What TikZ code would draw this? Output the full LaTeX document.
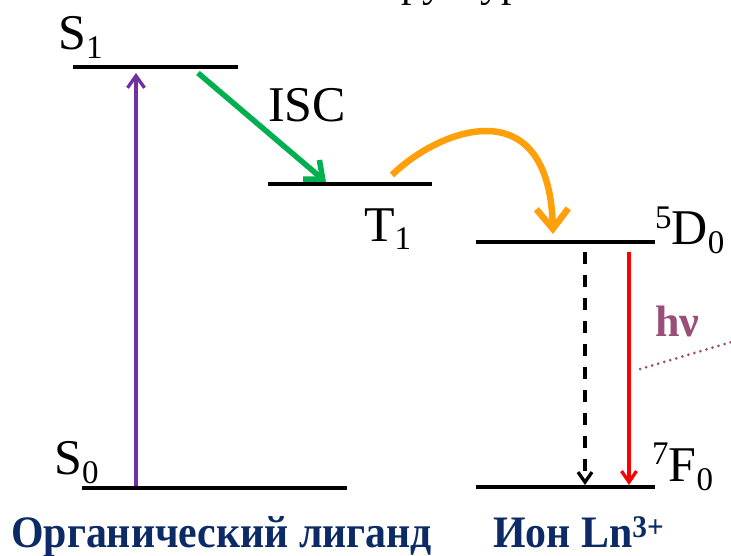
\documentclass[tikz,border=0pt]{standalone}
\usepackage{fontspec}
\setmainfont{Liberation Serif}
\usetikzlibrary{arrows.meta}
\definecolor{purp}{HTML}{7030A0}
\definecolor{grn}{HTML}{00B050}
\definecolor{orng}{HTML}{FFA00A}
\definecolor{plum}{HTML}{9A4F78}
\definecolor{navy}{HTML}{0C2A66}
\newcommand{\lsub}[1]{\raisebox{-9pt}{\fontsize{33}{33}\selectfont #1}}
\newcommand{\lsup}[1]{\raisebox{17pt}{\fontsize{33}{33}\selectfont #1}}
\begin{document}
\begin{tikzpicture}[x=1pt,y=-1pt,
  level/.style={line width=4.5pt},
  lbl/.style={inner sep=0pt, anchor=base west, font=\fontsize{50}{60}\selectfont},
  captxt/.style={inner sep=0pt, anchor=base west, text=navy, font=\fontsize{45}{54}\selectfont\bfseries},
]
\useasboundingbox (0,0) rectangle (731,556);
\begin{scope}
\clip (0,0) rectangle (731,556);
\node[inner sep=0pt, anchor=base west, font=\fontsize{42}{48}\selectfont] (title) at (364,-3) {структура};
% level coordinates
\coordinate (s1a) at (73,67);   \coordinate (s1b) at (238,67);
\coordinate (t1a) at (268,184); \coordinate (t1b) at (432,184);
\coordinate (d0a) at (476,242); \coordinate (d0b) at (655,242);
\coordinate (s0a) at (82,488);  \coordinate (s0b) at (347,488);
\coordinate (f0a) at (476,487); \coordinate (f0b) at (655,487);
\draw[level] (s1a) -- (s1b);
\draw[level] (t1a) -- (t1b);
\draw[level] (d0a) -- (d0b);
\draw[level] (s0a) -- (s0b);
\draw[level] (f0a) -- (f0b);
% arrow end points
\coordinate (pA) at (136,486); \coordinate (pB) at (136,73);
\coordinate (gA) at (198,73);  \coordinate (gB) at (326,182);
\coordinate (oA) at (392,175); \coordinate (oB) at (553,234);
\coordinate (kA) at (585,252); \coordinate (kB) at (585,485);
\coordinate (rA) at (629,252); \coordinate (rB) at (629,485);
\coordinate (dotA) at (640,369); \coordinate (dotB) at (735,341);
\draw[purp, line width=3.3pt, -{Straight Barb[length=12pt,width=17pt]}] (pA) -- (pB);
\draw[grn, line width=5.5pt, -{Straight Barb[length=15pt,width=25pt]}] (gA) -- (gB);
\draw[orng, line width=6.5pt, -{Straight Barb[length=20pt,width=32pt]}] (oA) .. controls (440,128) and (549,88) .. (oB);
\draw[black, line width=3.3pt, dash pattern=on 12pt off 11pt, -{Straight Barb[length=10pt,width=14pt]}] (kA) -- (kB);
\draw[red, line width=3.3pt, -{Straight Barb[length=11pt,width=15pt]}] (rA) -- (rB);
\draw[plum, line width=3pt, line cap=round, dash pattern=on 0pt off 6.3pt] (dotA) -- (dotB);
% labels
\node[lbl] (S1) at (58,50) {S\lsub{1}};
\node[lbl] (ISC) at (268,122) {ISC};
\node[lbl] (T1) at (364,241) {T\lsub{1}};
\node[lbl] (D0) at (655,245) {\lsup{5}D\lsub{0}};
\node[lbl] (S0) at (54,474) {S\lsub{0}};
\node[lbl] (F0) at (652,481) {\lsup{7}F\lsub{0}};
\node[inner sep=0pt, anchor=base west, text=plum, font=\fontsize{44}{50}\selectfont\bfseries] (hv) at (655,336) {hν};
\node[captxt, xscale=0.93] (org) at (11,547) {Органический лиганд};
\node[captxt, xscale=0.93] (ion) at (493,547) {Ион Ln\textsuperscript{3+}};
\end{scope}
\end{tikzpicture}
\end{document}
